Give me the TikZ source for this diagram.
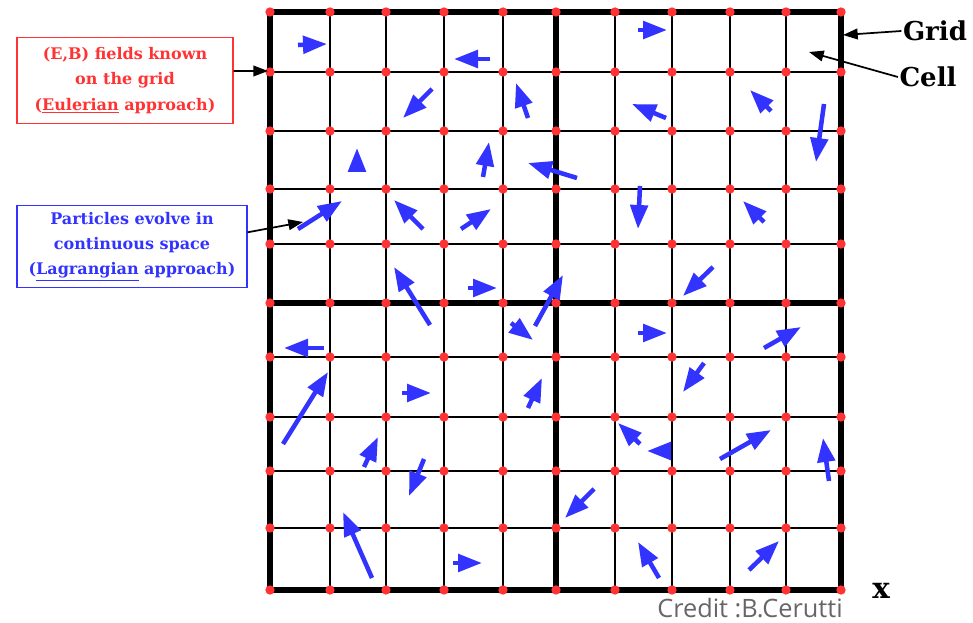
\documentclass[tikz,border=0pt]{standalone}
\usepackage{fontspec}
\newfontfamily\creditfont{Open Sans}
\newfontfamily\labelfont{DejaVu Serif}
\usetikzlibrary{arrows.meta,positioning}
\definecolor{ptblue}{RGB}{51,51,255}
\definecolor{nodered}{RGB}{255,51,51}

\begin{document}
\begin{tikzpicture}[x=0.75pt, y=-0.75pt,
        gridline/.style={line width=1.2pt},
        gridthick/.style={line width=3.8pt},
        particle/.style={ptblue, line width=3.4pt, -{Triangle[length=18pt,width=13pt]}},
        pointer/.style={black, line width=1.3pt, -{Triangle[length=11pt,width=8pt]}},
        labelbox/.style={draw, line width=0.8pt, align=center, inner sep=2pt,
            font=\labelfont\bfseries\fontsize{12}{19}\selectfont},
        biglabel/.style={font=\labelfont\bfseries\fontsize{19.5}{24}\selectfont, inner sep=1pt}]
        \useasboundingbox (0,0) rectangle (973,623);

        % grid: cells and thick blocks
        \foreach \x in {330,386,444,503,615,672,730,786}
            \draw[gridline] (\x,12) -- (\x,590);
        \foreach \y in {72,131,189,244,357,417,471,528}
            \draw[gridline] (270,\y) -- (841,\y);
        \draw[gridthick] (270,12) rectangle (841,590);
        \draw[gridthick] (556,12) -- (556,590);
        \draw[gridthick] (270,303) -- (841,303);

        % field values at the nodes
        \foreach \x in {270,330,386,444,503,556,615,672,730,786,841}
            \foreach \y in {12,72,131,189,244,303,357,417,471,528,590}
                \fill[nodered] (\x,\y) circle (3.5pt);

        % particles
        \foreach \xa/\ya/\xb/\yb in {
            298/45/327/44, 490/59/454/59, 432/89/403/118, 528/118/516/83,
            357/172/357/148, 483/177/489/142, 577/178/528/163, 298/229/342/201,
            423/229/394/200, 461/229/491/209, 430/325/394/267, 468/288/497/288,
            535/326/563/275, 511/323/533/340,
            638/30/667/30, 666/118/632/104, 771/111/750/90, 824/104/816/162,
            640/186/638/229, 764/222/743/201, 713/267/683/296,
            324/348/284/348, 283/444/328/372, 402/393/431/393, 528/408/542/378,
            364/467/378/437, 424/459/409/496, 372/578/343/512, 453/563/482/563,
            638/333/667/333, 764/348/801/327, 704/363/683/392, 640/444/618/423,
            671/451/647/451, 720/459/771/430, 829/481/823/438, 594/489/565/518,
            659/578/638/542, 749/570/779/541}
            \draw[particle] (\xa,\ya) -- (\xb,\yb);

        % labels
        \node[labelbox, nodered, minimum width=162pt, minimum height=65pt] (fieldbox) at (125,80.5)
            {(E,B) fields known\\on the grid\\(\underline{Eulerian} approach)};
        \node[labelbox, ptblue, minimum width=172.5pt, minimum height=61pt] (partbox) at (132,246.5)
            {Particles evolve in\\continuous space\\(\underline{Lagrangian} approach)};
        \node[biglabel] (gridlbl) at (935,31) {Grid};
        \node[biglabel] (celllbl) at (928,77) {Cell};
        \node[font=\labelfont\bfseries\fontsize{22}{26}\selectfont] (xlbl) at (881,591) {x};
        \node[font=\creditfont\fontsize{19}{22}\selectfont, text=black!60, anchor=base, inner sep=0pt] (credit) at (750,617)
            {Credit :B.Cerutti};

        \coordinate (fieldtip) at (268,71);
        \coordinate (parttip) at (303,222);
        \coordinate (gridtip) at (843,35);
        \coordinate (celltip) at (809,52);

        \draw[pointer] (fieldbox.5) -- (fieldtip);
        \draw[pointer] (partbox.7) -- (parttip);
        \draw[pointer] (gridlbl.west) -- (gridtip);
        \draw[pointer] (celllbl.west) -- (celltip);
    \end{tikzpicture}
\end{document}
